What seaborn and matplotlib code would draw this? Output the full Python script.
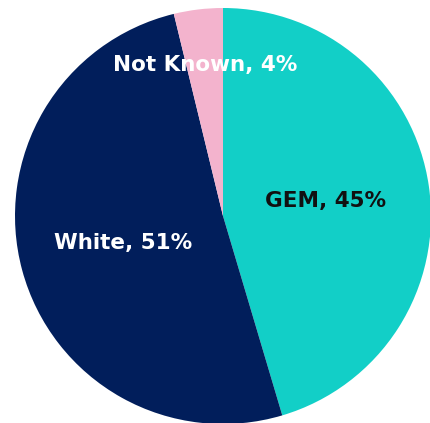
import numpy as np
import seaborn as sns
import matplotlib.pyplot as plt

categories = ["GEM", "White", "Not Known"]
shares = [45.4, 50.8, 3.8]
labels = [45, 51, 4]
colors = ["#12CFC7", "#011E5B", "#F3B3CD"]
text_colors = ["#111111", "white", "white"]
label_dist = [0.5, 0.5, 0.73]

sns.set_style("white")
plt.rcParams["font.family"] = ["DejaVu Sans"]

fig = plt.figure(figsize=(4.30, 4.23), dpi=100)
ax = fig.add_axes([0, 0, 1, 1])

cx, cy, r = 223, 423 - 216, 208
wedges, _ = ax.pie(shares, colors=colors, startangle=90, counterclock=False,
                   center=(cx, cy), radius=r, wedgeprops=dict(linewidth=0))

for w, cat, val, tc, d in zip(wedges, categories, labels, text_colors, label_dist):
    ang = np.deg2rad((w.theta1 + w.theta2) / 2)
    ax.text(cx + d * r * np.cos(ang), cy + d * r * np.sin(ang), f"{cat}, {val}%",
            ha="center", va="center", color=tc, fontsize=15.5, fontweight="bold")

ax.set_xlim(0, 430)
ax.set_ylim(0, 423)
ax.set_aspect("equal")
ax.axis("off")

fig.savefig("out.png", dpi=100)
